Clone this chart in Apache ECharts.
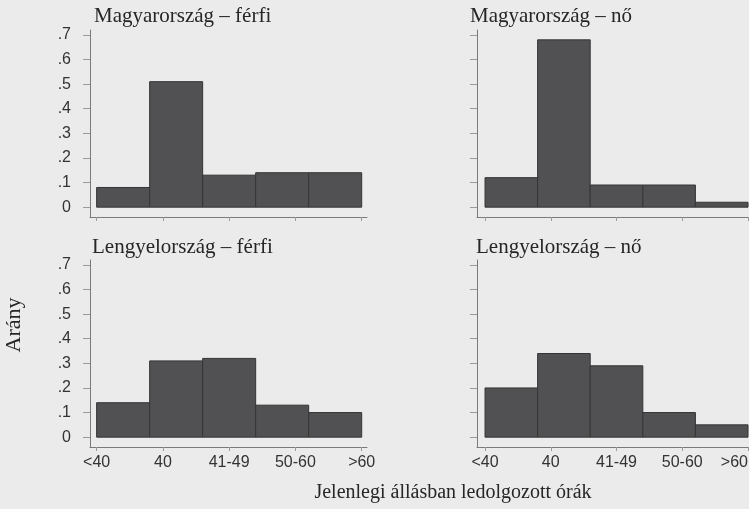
<!DOCTYPE html>
<html>
<head>
<meta charset="utf-8">
<script src="https://cdn.jsdelivr.net/npm/echarts@6/dist/echarts.min.js"></script>
<style>
html,body{margin:0;padding:0;background:#ebebec;}
#chart{width:749px;height:509px;}
</style>
</head>
<body>
<div id="chart"></div>
<script>
// ---- data ----
const categories = ['<40', '40', '41-49', '50-60', '>60'];
const huMale   = [0.08, 0.51, 0.13, 0.14, 0.14];
const huFemale = [0.12, 0.68, 0.09, 0.09, 0.02];
const plMale   = [0.14, 0.31, 0.32, 0.13, 0.10];
const plFemale = [0.20, 0.34, 0.29, 0.10, 0.05];
const yTicks = [0, 0.1, 0.2, 0.3, 0.4, 0.5, 0.6, 0.7];
const yTickLabels = ['0', '.1', '.2', '.3', '.4', '.5', '.6', '.7'];
const panelTitles = ['Magyarország – férfi', 'Magyarország – nő', 'Lengyelország – férfi', 'Lengyelország – nő'];
const yAxisTitle = 'Arány';
const xAxisTitle = 'Jelenlegi állásban ledolgozott órák';

// ---- layout ----
const xTickPos = categories.map((c, i) => i + 1);           // category label positions 1..5
const binWidth = (xTickPos[xTickPos.length - 1] - xTickPos[0]) / categories.length;
function bins(values) {
  return values.map((v, i) => [xTickPos[0] + i * binWidth, xTickPos[0] + (i + 1) * binWidth, v]);
}
const seriesData = [huMale, huFemale, plMale, plFemale];

const grids = [
  {left: 90,  top: 30,  width: 277, height: 187, outerBoundsMode: 'none', containLabel: false},
  {left: 477, top: 30,  width: 272, height: 187, outerBoundsMode: 'none', containLabel: false},
  {left: 90,  top: 260, width: 277, height: 187, outerBoundsMode: 'none', containLabel: false},
  {left: 477, top: 260, width: 272, height: 187, outerBoundsMode: 'none', containLabel: false}
];
const xRanges = [[0.9, 5.08], [0.878, 5.015], [0.9, 5.08], [0.878, 5.015]];
const titlePos = [[94, 6], [470, 6], [92, 237], [476, 237]];

const axisColor = '#7a7a7a';
const serif = '"Liberation Serif", "DejaVu Serif", serif';
const sans = '"Liberation Sans", Arial, sans-serif';

function renderItem(params, api) {
  const x0 = api.value(0), x1 = api.value(1), v = api.value(2);
  const p0 = api.coord([x0, v]);
  const p1 = api.coord([x1, 0]);
  return {
    type: 'rect',
    shape: {x: p0[0], y: p0[1], width: p1[0] - p0[0], height: p1[1] - p0[1]},
    style: {fill: '#515153', stroke: '#353535', lineWidth: 1}
  };
}

const option = {
  backgroundColor: '#ebebec',
  animation: false,
  title: panelTitles.map((t, i) => ({
    text: t, left: titlePos[i][0], top: titlePos[i][1], padding: 0,
    textStyle: {fontFamily: serif, fontSize: 21, fontWeight: 'normal', color: '#262626'}
  })),
  grid: grids,
  xAxis: grids.map((g, i) => ({
    type: 'value', gridIndex: i, min: xRanges[i][0], max: xRanges[i][1],
    splitLine: {show: false},
    axisLine: {show: true, onZero: false, lineStyle: {color: axisColor, width: 1}},
    axisTick: {show: true, length: 4, inside: false, customValues: xTickPos, lineStyle: {color: '#9a9a9a'}},
    axisLabel: {
      show: i >= 2, customValues: xTickPos, margin: 8,
      alignMaxLabel: i === 3 ? 'right' : 'center',
      fontFamily: sans, fontSize: 16, color: '#333',
      formatter: v => categories[Math.round(v) - 1] || ''
    }
  })),
  yAxis: grids.map((g, i) => ({
    type: 'value', gridIndex: i, min: -0.04, max: 0.72,
    splitLine: {show: false},
    axisLine: {show: true, lineStyle: {color: axisColor, width: 1}},
    axisTick: {show: true, length: 7, customValues: yTicks, lineStyle: {color: '#9a9a9a'}},
    axisLabel: {
      show: i % 2 === 0, customValues: yTicks, margin: 19,
      fontFamily: sans, fontSize: 16, color: '#333',
      formatter: v => {
        const k = yTicks.findIndex(t => Math.abs(t - v) < 1e-6);
        return k >= 0 ? yTickLabels[k] : '';
      }
    }
  })),
  series: seriesData.map((vals, i) => ({
    type: 'custom', xAxisIndex: i, yAxisIndex: i,
    renderItem: renderItem,
    encode: {x: [0, 1], y: 2},
    data: bins(vals)
  })),
  graphic: [
    {type: 'text', x: 14, y: 325, rotation: Math.PI / 2,
     style: {text: yAxisTitle, font: '22px ' + serif, fill: '#262626', textAlign: 'center', textVerticalAlign: 'middle'}},
    {type: 'text', x: 453, y: 493,
     style: {text: xAxisTitle, font: '20px ' + serif, fill: '#262626', textAlign: 'center', textVerticalAlign: 'middle'}}
  ]
};

const chart = echarts.init(document.getElementById('chart'), null, {renderer: 'canvas'});
chart.setOption(option);
</script>
</body>
</html>
